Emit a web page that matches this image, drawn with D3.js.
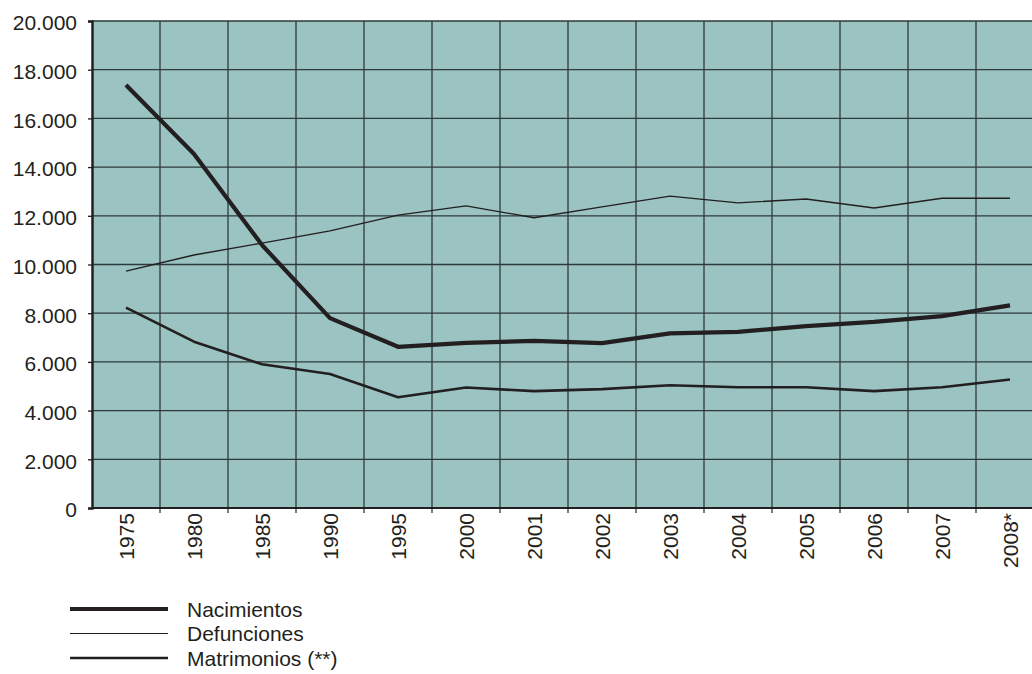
<!DOCTYPE html>
<html>
<head>
<meta charset="utf-8">
<script src="https://cdn.jsdelivr.net/npm/d3@7"></script>
<style>
  body { margin: 0; background: #fff; }
  svg text { font-family: "Liberation Sans", Arial, sans-serif; fill: #231f20; }
</style>
</head>
<body>
<svg id="chart" width="1032" height="674"></svg>
<script>
var years = ["1975","1980","1985","1990","1995","2000","2001","2002","2003","2004","2005","2006","2007","2008*"];
var nacimientos = [17370, 14540, 10800, 7800, 6620, 6780, 6860, 6770, 7170, 7230, 7470, 7640, 7880, 8320];
var defunciones = [9730, 10390, 10880, 11380, 12030, 12410, 11920, 12370, 12810, 12530, 12690, 12320, 12720, 12720];
var matrimonios = [8230, 6830, 5900, 5500, 4550, 4950, 4800, 4880, 5040, 4960, 4960, 4800, 4960, 5280];
var yTicks = [0, 2000, 4000, 6000, 8000, 10000, 12000, 14000, 16000, 18000, 20000];
var seriesNames = ["Nacimientos", "Defunciones", "Matrimonios (**)"];

var ink = "#231f20";
var svg = d3.select("#chart");
var pLeft = 92, pRight = 1044, pTop = 21, pBottom = 508;

var x = d3.scaleBand().domain(years).range([pLeft, pRight]);
var y = d3.scaleLinear().domain([0, 20000]).range([pBottom, pTop]);
var fmt = function(d) { return d3.format(",")(d).replace(/,/g, "."); };

// plot background
svg.append("rect")
    .attr("x", pLeft).attr("y", pTop)
    .attr("width", pRight - pLeft).attr("height", pBottom - pTop)
    .attr("fill", "#9ac3c2");

// horizontal grid
svg.append("g").selectAll("line")
    .data(yTicks)
    .enter().append("line")
    .attr("x1", pLeft).attr("x2", pRight)
    .attr("y1", function(d) { return y(d); })
    .attr("y2", function(d) { return y(d); })
    .attr("stroke", "#2e3a3a").attr("stroke-width", 1.3);

// vertical grid at category boundaries
var bounds = years.slice(1).map(function(d) { return x(d); });
svg.append("g").selectAll("line")
    .data(bounds)
    .enter().append("line")
    .attr("x1", function(d) { return d; }).attr("x2", function(d) { return d; })
    .attr("y1", pTop).attr("y2", pBottom + 5)
    .attr("stroke", "#2e3a3a").attr("stroke-width", 1.3);

// y axis
var yAxis = svg.append("g")
    .attr("transform", "translate(" + pLeft + ",0)")
    .call(d3.axisLeft(y).tickValues(yTicks).tickFormat(fmt).tickSize(4).tickPadding(11));
yAxis.select(".domain").attr("stroke", ink).attr("stroke-width", 2.5);
yAxis.selectAll(".tick line").attr("stroke", ink).attr("stroke-width", 1.3);
yAxis.selectAll("text").style("font-size", "21px").attr("fill", ink).attr("dy", "0.42em");

// x axis
svg.append("line")
    .attr("x1", pLeft).attr("x2", pRight)
    .attr("y1", pBottom).attr("y2", pBottom)
    .attr("stroke", ink).attr("stroke-width", 2);

svg.append("g").selectAll("text")
    .data(years)
    .enter().append("text")
    .attr("transform", function(d) {
        return "translate(" + (x(d) + x.bandwidth() / 2 + 8) + "," + (pBottom + 5) + ") rotate(-90)";
    })
    .attr("text-anchor", "end")
    .style("font-size", "21px")
    .text(function(d) { return d; });

// lines
var line = d3.line()
    .x(function(d, i) { return x(years[i]) + x.bandwidth() / 2; })
    .y(function(d) { return y(d); });

var series = [
    {name: seriesNames[1], values: defunciones, w: 1.3},
    {name: seriesNames[2], values: matrimonios, w: 2.6},
    {name: seriesNames[0], values: nacimientos, w: 4.2}
];
svg.append("g").selectAll("path")
    .data(series)
    .enter().append("path")
    .attr("d", function(d) { return line(d.values); })
    .attr("fill", "none")
    .attr("stroke", ink)
    .attr("stroke-width", function(d) { return d.w; })
    .attr("stroke-linejoin", "round");

// legend
var legend = [
    {name: seriesNames[0], w: 4.2},
    {name: seriesNames[1], w: 1.2},
    {name: seriesNames[2], w: 2.6}
];
var lg = svg.append("g").selectAll("g")
    .data(legend)
    .enter().append("g")
    .attr("transform", function(d, i) { return "translate(70," + (609 + i * 24.5) + ")"; });
lg.append("line")
    .attr("x1", 0).attr("x2", 98)
    .attr("stroke", ink)
    .attr("stroke-width", function(d) { return d.w; });
lg.append("text")
    .attr("x", 117).attr("dy", "0.36em")
    .style("font-size", "21px")
    .text(function(d) { return d.name; });
</script>
</body>
</html>
